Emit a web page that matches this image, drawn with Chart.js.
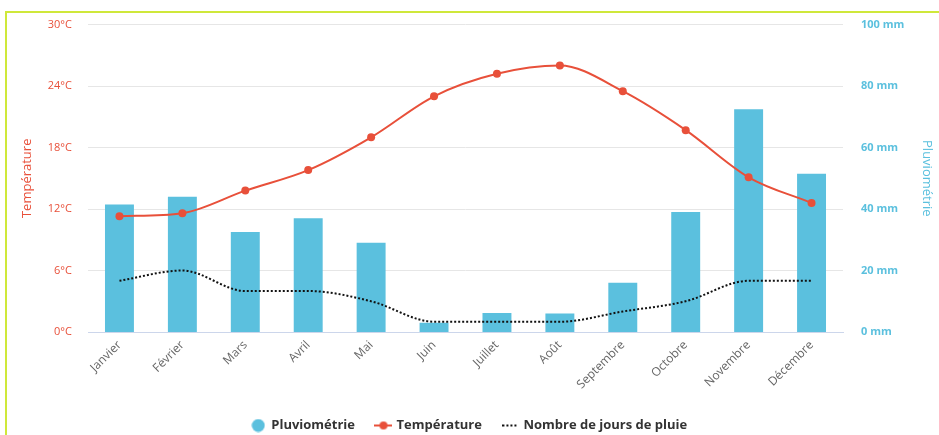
<!DOCTYPE html>
<html>
<head>
<meta charset="utf-8">
<script src="https://cdn.jsdelivr.net/npm/chart.js@4.4.1/dist/chart.umd.min.js"></script>
<style>
  html, body { margin: 0; padding: 0; background: #fff; overflow: hidden; }
  #wrap { position: relative; width: 939px; height: 435px; }
  #cadre { position: absolute; left: 5px; top: 11px; width: 960px; height: 460px; border: 2px solid #cfe83a; box-sizing: border-box; }
  canvas { position: absolute; left: 0; top: 0; }
</style>
</head>
<body>
<div id="wrap">
  <div id="cadre"></div>
  <canvas id="climat" width="939" height="435"></canvas>
</div>
<script>
// Données climatiques
const mois = ['Janvier', 'Février', 'Mars', 'Avril', 'Mai', 'Juin', 'Juillet', 'Août', 'Septembre', 'Octobre', 'Novembre', 'Décembre'];
const pluviometrie = [41.5, 44, 32.5, 37, 29, 3, 6.2, 6, 16, 39, 72.5, 51.5];
const temperature = [11.3, 11.6, 13.8, 15.8, 19, 23, 25.2, 26, 23.5, 19.7, 15.1, 12.6];
const joursPluie = [5, 6, 4, 4, 3, 1, 1, 1, 2, 3, 5, 5];
const ticksTemp = [0, 6, 12, 18, 24, 30];
const ticksPluie = [0, 20, 40, 60, 80, 100];

const rouge = '#e8503a';
const bleu = '#5bc0de';
const police = '"Open Sans", "DejaVu Sans", sans-serif';

// petites icônes pour la légende
function iconeTemp() {
  const c = document.createElement('canvas');
  c.width = 18; c.height = 10;
  const g = c.getContext('2d');
  g.strokeStyle = rouge; g.lineWidth = 2;
  g.beginPath(); g.moveTo(0, 5); g.lineTo(18, 5); g.stroke();
  g.fillStyle = rouge;
  g.beginPath(); g.arc(9, 5, 4, 0, Math.PI * 2); g.fill();
  return c;
}
function iconeJours() {
  const c = document.createElement('canvas');
  c.width = 16; c.height = 10;
  const g = c.getContext('2d');
  g.fillStyle = '#111';
  for (let x = 0; x < 16; x += 4) g.fillRect(x, 4, 2, 2);
  return c;
}
function iconePluie() {
  const c = document.createElement('canvas');
  c.width = 14; c.height = 14;
  const g = c.getContext('2d');
  g.fillStyle = bleu;
  g.beginPath(); g.arc(7, 7, 6.5, 0, Math.PI * 2); g.fill();
  return c;
}
const icones = [iconePluie(), iconeTemp(), iconeJours()];

new Chart(document.getElementById('climat'), {
  data: {
    labels: mois,
    datasets: [
      {
        type: 'bar',
        label: 'Pluviométrie',
        data: pluviometrie,
        yAxisID: 'yPluie',
        backgroundColor: bleu,
        borderWidth: 0,
        barPercentage: 0.92,
        categoryPercentage: 0.5,
        order: 3
      },
      {
        type: 'line',
        label: 'Température',
        data: temperature,
        yAxisID: 'yTemp',
        borderColor: rouge,
        backgroundColor: rouge,
        borderWidth: 2,
        pointRadius: 4,
        pointBorderWidth: 0,
        cubicInterpolationMode: 'monotone',
        order: 1
      },
      {
        type: 'line',
        label: 'Nombre de jours de pluie',
        data: joursPluie,
        yAxisID: 'yTemp',
        borderColor: '#111',
        borderWidth: 2,
        borderDash: [2, 2],
        pointRadius: 0,
        cubicInterpolationMode: 'monotone',
        order: 2
      }
    ]
  },
  options: {
    responsive: false,
    animation: false,
    layout: { padding: { top: 24, left: 0, right: 0, bottom: -7 } },
    plugins: {
      tooltip: { enabled: false },
      legend: {
        position: 'bottom',
        labels: {
          usePointStyle: true,
          color: '#333',
          font: { family: police, size: 13, weight: 'bold' },
          padding: 22,
          sort: (a, b) => a.datasetIndex - b.datasetIndex,
          generateLabels: chart => chart.data.datasets.map((ds, i) => ({
            text: ds.label,
            fillStyle: 'transparent',
            strokeStyle: 'transparent',
            lineWidth: 0,
            pointStyle: icones[i],
            fontColor: '#333',
            datasetIndex: i
          }))
        }
      }
    },
    scales: {
      x: {
        grid: { display: false, drawTicks: false },
        border: { color: '#ccd6eb', width: 1 },
        ticks: {
          color: '#666',
          font: { family: police, size: 12 },
          minRotation: 45,
          maxRotation: 45,
          padding: 6
        },
        afterFit: s => { s.height = 65; }
      },
      yTemp: {
        position: 'left',
        min: 0,
        max: 30,
        afterBuildTicks: s => { s.ticks = ticksTemp.map(v => ({ value: v })); },
        grid: { color: '#e6e6e6', drawTicks: false },
        border: { display: false },
        ticks: {
          color: rouge,
          padding: 16,
          font: { family: police, size: 11 },
          callback: v => v + '°C'
        },
        title: {
          display: true,
          text: 'Température',
          color: rouge,
          font: { family: police, size: 13 },
          padding: { top: 19, bottom: 4 }
        },
        afterFit: s => { s.width = 88; }
      },
      yPluie: {
        position: 'right',
        min: 0,
        max: 100,
        afterBuildTicks: s => { s.ticks = ticksPluie.map(v => ({ value: v })); },
        grid: { display: false, drawTicks: false },
        border: { display: false },
        ticks: {
          color: bleu,
          padding: 18,
          font: { family: police, size: 11, weight: 'bold' },
          callback: v => v + ' mm'
        },
        title: {
          display: true,
          text: 'Pluviométrie',
          color: bleu,
          font: { family: police, size: 13 },
          padding: { top: 4, bottom: 0 }
        },
        afterFit: s => { s.width = 96; }
      }
    }
  }
});
</script>
</body>
</html>
